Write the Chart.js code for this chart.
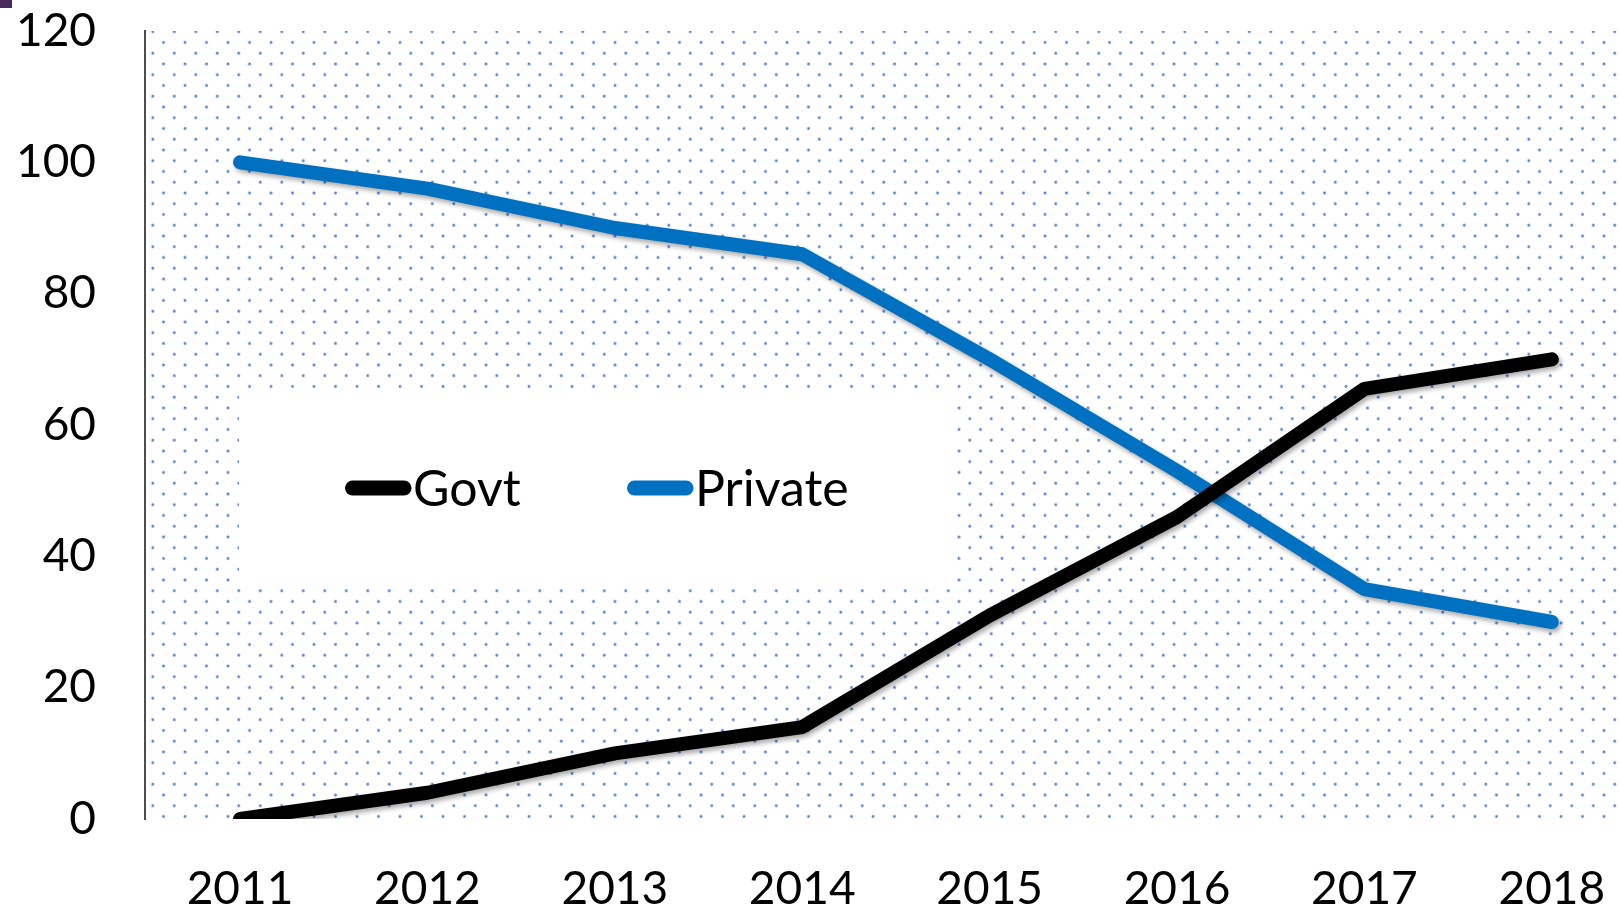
<!DOCTYPE html>
<html>
<head>
<meta charset="utf-8">
<script src="https://cdn.jsdelivr.net/npm/chart.js@4"></script>
<style>
  body { margin: 0; background: #fff; }
  #wrap { position: relative; width: 1621px; height: 912px; }
  #corner { position: absolute; left: 0; top: 0; width: 12px; height: 8px; background: #4a2b5c; }
</style>
</head>
<body>
<div id="wrap">
  <canvas id="myChart"></canvas>
  <div id="corner"></div>
</div>
<script>
const years = [2011, 2012, 2013, 2014, 2015, 2016, 2017, 2018];
const govtValues = [0, 4, 10, 14, 31, 46, 65.5, 70];
const privateValues = [100, 96, 90, 86, 70, 53, 35, 30];
const yTickValues = [0, 20, 40, 60, 80, 100, 120];
const seriesLabels = ['Govt', 'Private'];
const seriesColors = ['#000000', '#0070c0'];

// dotted fill of the plot area
function makeDots() {
  const tile = document.createElement('canvas');
  tile.width = 43;
  tile.height = 43;
  const c = tile.getContext('2d');
  c.fillStyle = '#4f7fd2';
  for (let j = 0; j < 4; j++) {
    const y = j * 10.75;
    const xs = j % 2 === 0 ? [0, 21.5] : [10.75, 32.25];
    xs.forEach(x => {
      [-43, 0, 43].forEach(dx => {
        [-43, 0, 43].forEach(dy => {
          c.beginPath();
          c.arc(x + dx, y + dy, 1.4, 0, Math.PI * 2);
          c.fill();
        });
      });
    });
  }
  return tile;
}

const backdrop = {
  id: 'backdrop',
  beforeDatasetsDraw(chart) {
    const ctx = chart.ctx;
    const a = chart.chartArea;
    const pat = ctx.createPattern(makeDots(), 'repeat');
    pat.setTransform(new DOMMatrix().translate(152.7, 31.7));
    ctx.save();
    ctx.fillStyle = pat;
    ctx.fillRect(a.left + 1, a.top, a.right - a.left, a.bottom - a.top);
    // legend box
    ctx.fillStyle = '#fff';
    ctx.fillRect(239, 390, 716, 197);
    const items = [345, 627];
    ctx.font = '50px Lato';
    ctx.textBaseline = 'middle';
    ctx.lineCap = 'round';
    ctx.lineWidth = 15;
    items.forEach((x, i) => {
      ctx.strokeStyle = seriesColors[i];
      ctx.beginPath();
      ctx.moveTo(x + 7.5, 488);
      ctx.lineTo(x + 59, 488);
      ctx.stroke();
      ctx.fillStyle = '#000';
      ctx.fillText(seriesLabels[i], x + 68, 490);
    });
    ctx.restore();
  },
  beforeDatasetDraw(chart) {
    const ctx = chart.ctx;
    ctx.save();
    ctx.shadowColor = 'rgba(0,0,0,0.35)';
    ctx.shadowBlur = 5;
    ctx.shadowOffsetX = 2;
    ctx.shadowOffsetY = 3;
  },
  afterDatasetDraw(chart) {
    chart.ctx.restore();
  }
};

function noEdgePadding(s) {
  s.paddingTop = 0;
  s.paddingBottom = 0;
  s.paddingLeft = 0;
  s.paddingRight = 0;
}

Chart.defaults.font.family = 'Lato';
Chart.defaults.color = '#000';

new Chart(document.getElementById('myChart'), {
  type: 'line',
  data: {
    datasets: [
      {
        label: seriesLabels[0],
        data: years.map((y, i) => ({ x: y, y: govtValues[i] })),
        borderColor: seriesColors[0],
        borderWidth: 14,
        pointRadius: 0,
        borderCapStyle: 'round',
        borderJoinStyle: 'round',
        clip: 0
      },
      {
        label: seriesLabels[1],
        data: years.map((y, i) => ({ x: y, y: privateValues[i] })),
        borderColor: seriesColors[1],
        borderWidth: 14,
        pointRadius: 0,
        borderCapStyle: 'round',
        borderJoinStyle: 'round',
        clip: 0
      }
    ]
  },
  options: {
    responsive: true,
    maintainAspectRatio: false,
    animation: false,
    layout: { padding: { left: 19, top: 31, right: 0, bottom: 2 } },
    plugins: {
      legend: { display: false },
      tooltip: { enabled: false }
    },
    scales: {
      x: {
        type: 'linear',
        min: 2010.493,
        max: 2018.369,
        afterBuildTicks: s => { s.ticks = years.map(v => ({ value: v })); },
        afterFit: s => { noEdgePadding(s); s.height = 91; },
        grid: { display: false, drawTicks: false },
        border: { display: false },
        ticks: {
          font: { size: 46 },
          padding: 43,
          maxRotation: 0,
          autoSkip: false,
          callback: v => String(v)
        }
      },
      y: {
        min: 0,
        max: 120,
        afterBuildTicks: s => { s.ticks = yTickValues.map(v => ({ value: v })); },
        afterFit: s => { noEdgePadding(s); s.width = 126; },
        grid: { display: false, drawTicks: false },
        border: { display: true, color: '#4d4d4d', width: 2 },
        ticks: {
          font: { size: 46 },
          padding: 49,
          callback: v => String(v)
        }
      }
    }
  },
  plugins: [backdrop]
});
</script>
</body>
</html>
